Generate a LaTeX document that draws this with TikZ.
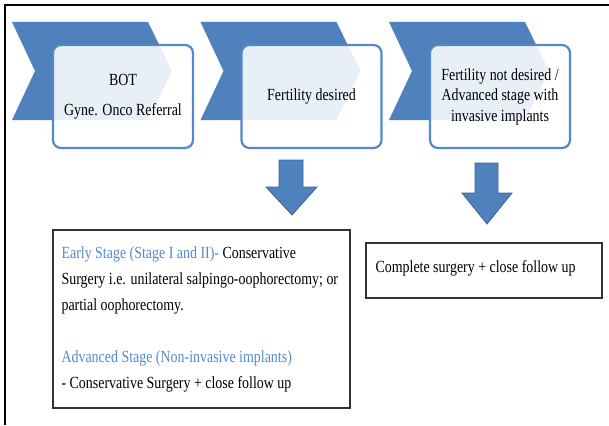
\documentclass[tikz,border=0pt]{standalone}
\usepackage{fontspec}
\setmainfont{Liberation Serif}[FakeStretch=0.82]
\definecolor{chevblue}{RGB}{79,129,189}
\definecolor{cardblue}{RGB}{84,136,200}
\definecolor{txtblue}{RGB}{84,138,205}
\definecolor{arrowedge}{RGB}{60,100,150}
\begin{document}
\begin{tikzpicture}[x=1pt,y=-1pt,
  chev/.style={fill=chevblue, draw=none},
  card/.style={rounded corners=8pt, draw=cardblue, line width=2.2pt, fill=white,
    fill opacity=0.88, text opacity=1, align=center,
    font=\fontsize{17}{20.5}\selectfont, minimum width=140pt, minimum height=103pt, inner sep=2pt},
  barrow/.style={fill=chevblue, draw=arrowedge, line width=0.8pt, line join=miter},
  plainbox/.style={draw=black!80, line width=1.3pt, fill=white, inner sep=0pt},
  btext/.style={align=left, inner sep=0pt, font=\fontsize{17}{26}\selectfont}]
\useasboundingbox (0,0) rectangle (609,425);
% outer frame
\draw[line width=1.2pt] (5,425) -- (5,5) -- (609,5);
% chevrons
\foreach \x in {12,200.5,389}
  \fill[chev] (\x,22) -- ++(136,0) -- ++(24,49) -- ++(-24,49) -- ++(-136,0) -- ++(23,-49) -- cycle;
% cards
\node[card] (b1) at (123,96.5) {BOT\\[9pt]Gyne. Onco Referral};
\node[card] (b2) at (311.5,96.5) {Fertility desired};
\node[card] (b3) at (500,96.5) {Fertility not desired /\\Advanced stage with\\invasive implants};
% block arrows
\filldraw[barrow] (279,160) -- (303,160) -- (303,187) -- (317,187) -- (292,215) -- (266,187) -- (279,187) -- cycle;
\filldraw[barrow] (475,163) -- (498,163) -- (498,193) -- (512,193) -- (487,224) -- (462,193) -- (475,193) -- cycle;
% result boxes
\node[plainbox, minimum width=297pt, minimum height=178pt] (early) at (201.5,319) {};
\node[btext, anchor=west] (earlytxt) at ([xshift=9pt]early.west)
  {{\color{txtblue}Early Stage (Stage I and II)-} Conservative\\
   Surgery i.e. unilateral salpingo-oophorectomy; or\\
   partial oophorectomy.\\[26pt]
   {\color{txtblue}Advanced Stage (Non-invasive implants)}\\
   - Conservative Surgery + close follow up};
\node[plainbox, minimum width=236pt, minimum height=55pt] (comp) at (484,270.5) {};
\node[btext, anchor=west] (comptxt) at ([xshift=10pt,yshift=2.5pt]comp.west) {Complete surgery + close follow up};
\end{tikzpicture}
\end{document}
